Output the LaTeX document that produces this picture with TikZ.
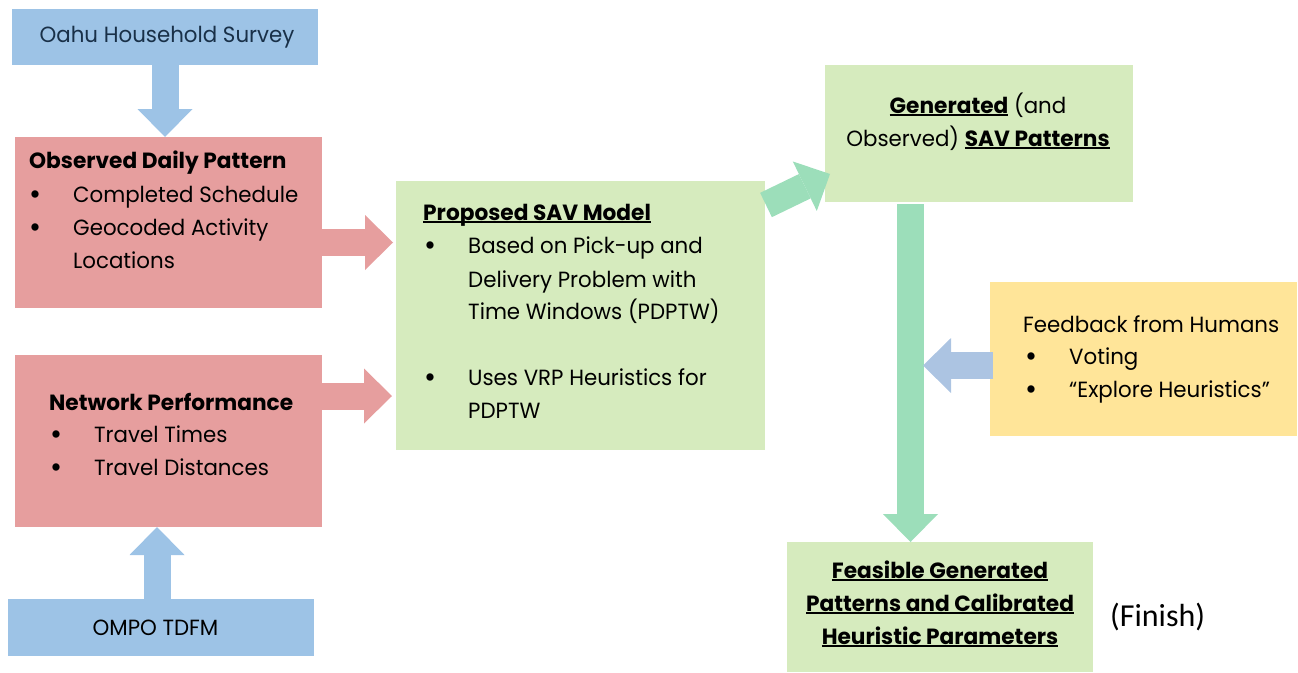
\documentclass[tikz,border=0pt]{standalone}
\usepackage{fontspec}
\setmainfont{Poppins}[UprightFeatures={FakeStretch=0.97}, BoldFeatures={FakeStretch=0.985}]
\newfontfamily\finishfont{Carlito}
\usetikzlibrary{arrows.meta}
\definecolor{surveyblue}{RGB}{157,195,230}
\definecolor{inputred}{RGB}{230,158,158}
\definecolor{modelgreen}{RGB}{214,235,190}
\definecolor{flowteal}{RGB}{156,222,186}
\definecolor{humanyellow}{RGB}{255,229,153}
\definecolor{feedbackblue}{RGB}{172,196,226}
\definecolor{surveyink}{RGB}{25,48,72}

% bold text with a heavy rule under it
\newcommand{\ulb}[1]{\setbox0\hbox{\bfseries #1}\rlap{\rule[-3pt]{\wd0}{1.8pt}}\box0\relax}
\newcommand{\bul}{\makebox[44pt][l]{\raisebox{-2.5pt}{\fontsize{30}{30}\selectfont\textbullet}}}

\tikzset{
  box/.style={draw=none, inner sep=0pt, outer sep=0pt, anchor=north west},
  txt/.style={inner sep=0pt, anchor=base west, font=\fontsize{22}{33}\selectfont},
  ctxt/.style={txt, anchor=base},
  blockarrow/.style={line width=27pt, -{Triangle[length=28pt,width=55pt,line width=0pt]}}
}

\begin{document}
\begin{tikzpicture}[x=1pt,y=-1pt]
\useasboundingbox (0,0) rectangle (1298,672);

% boxes
\node[box, fill=surveyblue, minimum width=306pt, minimum height=56pt] (oahu) at (12,9) {};
\node[box, fill=inputred, minimum width=307pt, minimum height=171pt] (observed) at (15,137) {};
\node[box, fill=inputred, minimum width=307pt, minimum height=172pt] (network) at (15,355) {};
\node[box, fill=surveyblue, minimum width=306pt, minimum height=57pt] (ompo) at (8,599) {};
\node[box, fill=modelgreen, minimum width=369pt, minimum height=269pt] (proposed) at (396,181) {};
\node[box, fill=modelgreen, minimum width=308pt, minimum height=137pt] (generated) at (825,65) {};
\node[box, fill=humanyellow, minimum width=307pt, minimum height=154pt] (feedback) at (990,282) {};
\node[box, fill=modelgreen, minimum width=306pt, minimum height=130pt] (feasible) at (787,542) {};

% arrows
\draw[blockarrow, surveyblue] (oahu.south) -- (oahu.south |- observed.north);
\draw[blockarrow, surveyblue] ([xshift=-4pt]ompo.north) -- ([xshift=-4pt]ompo.north |- network.south);
\coordinate (obsout) at ([yshift=-20pt]observed.east);
\coordinate (netout) at ([yshift=45pt]network.east);
\draw[blockarrow, inputred] (obsout) -- ([xshift=-3pt]obsout -| proposed.west);
\draw[blockarrow, inputred] (netout) -- ([xshift=-4pt]netout -| proposed.west);
\draw[blockarrow, flowteal] ([xshift=1pt,yshift=-24pt]proposed.north east) -- ([xshift=5pt,yshift=-109pt]generated.north west);
\draw[blockarrow, flowteal] ([xshift=85.5pt,yshift=-2pt]generated.south west) -- ([xshift=123.5pt]feasible.north west);
\draw[blockarrow, feedbackblue] ([xshift=3pt,yshift=-6.5pt]feedback.west) -- ([xshift=-67pt,yshift=-6.5pt]feedback.west);

% texts
\node[ctxt, text=surveyink] (oahutxt) at (167,42) {Oahu Household Survey};
\node[ctxt] (ompotxt) at (155.5,635) {OMPO TDFM};

\node[txt] (obshead) at (29,168) {\bfseries Observed Daily Pattern};
\node[txt] (obs1) at (29,202) {\bul Completed Schedule};
\node[txt] (obs2) at (29,235) {\bul Geocoded Activity};
\node[txt] (obs3) at (73,268) {Locations};

\node[txt] (nethead) at (49,410) {\bfseries Network Performance};
\node[txt] (net1) at (50,442) {\bul Travel Times};
\node[txt] (net2) at (50,475) {\bul Travel Distances};

\node[txt] (prohead) at (423,220) {\ulb{Proposed SAV Model}};
\node[txt] (pro1) at (424,253) {\bul Based on Pick-up and};
\node[txt] (pro2) at (468,287) {Delivery Problem with};
\node[txt] (pro3) at (468,319) {Time Windows (PDPTW)};
\node[txt] (pro4) at (424,385) {\bul Uses VRP Heuristics for};
\node[txt] (pro5) at (468,418) {PDPTW};

\node[ctxt] (gen1) at (978,113) {\ulb{Generated} (and};
\node[ctxt] (gen2) at (978,146) {Observed) \ulb{SAV Patterns}};

\node[txt] (fbhead) at (1023,332) {Feedback from Humans};
\node[txt] (fb1) at (1025,364) {\bul Voting};
\node[txt] (fb2) at (1025,397) {\bul “Explore Heuristics”};

\node[ctxt] (fea1) at (940,578) {\ulb{Feasible Generated}};
\node[ctxt] (fea2) at (940,611) {\ulb{Patterns and Calibrated}};
\node[ctxt] (fea3) at (940,644) {\ulb{Heuristic Parameters}};

\node[txt, font=\finishfont\fontsize{32}{38}\selectfont] (finish) at (1110,626) {(Finish)};
\end{tikzpicture}
\end{document}
